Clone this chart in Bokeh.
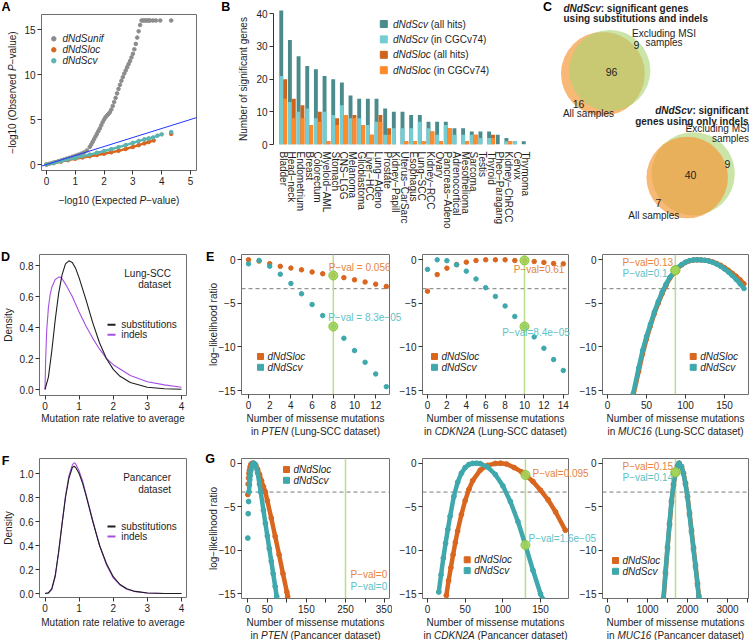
import math
from bokeh.plotting import figure
from bokeh.models import Range1d, FixedTicker, Label, Span, Slope
from bokeh.embed import file_html
from bokeh.resources import INLINE

# ============================ DATA ============================
# A: QQ plot, -log10 expected vs observed P
qq_unif_x = [0.00,0.10,0.20,0.30,0.40,0.50,0.60,0.70,0.80,0.90,1.00,1.10,1.20,1.30,1.40,1.50,
             1.55,1.60,1.65,1.70,1.75,1.80,1.85,1.90,1.95,2.00,2.05,2.10,2.15,2.20,2.25,2.30,2.35,2.40,
             2.45,2.50,2.55,2.60,2.65,2.70,2.75,2.80,2.85,2.90,2.95,3.00,3.05,3.10,3.15,3.20,3.25,3.30,
             3.35,3.40,3.45,3.50,3.55,3.60,3.70,3.80,3.95,4.33]
qq_unif_y = [0.00,0.08,0.17,0.26,0.35,0.45,0.55,0.65,0.75,0.86,0.97,1.08,1.20,1.33,1.55,1.95,
             2.20,2.50,2.80,3.10,3.40,3.70,4.00,4.35,4.70,5.00,5.25,5.45,5.60,5.80,6.10,6.50,6.95,7.40,
             7.90,8.40,8.85,9.30,9.70,10.10,10.45,10.80,11.15,11.50,11.90,12.30,12.80,13.40,14.10,14.80,15.50,16.00,
             16.00,16.00,16.00,16.00,16.00,16.00,16.00,16.00,16.00,16.00]
qq_cv_x = [0,0.25,0.5,0.75,1.0,1.25,1.5,1.75,2.0,2.25,2.5,2.75,3.0,3.2,3.4,3.55,3.7,3.85,4.0,4.33]
qq_cv_y = [0,0.18,0.36,0.55,0.73,0.92,1.1,1.3,1.5,1.7,1.92,2.15,2.4,2.6,2.8,2.9,3.0,3.2,3.35,3.6]
qq_loc_x = [0,0.25,0.5,0.75,1.0,1.25,1.5,1.75,2.0,2.25,2.5,2.75,3.0,3.2,3.4,3.55,3.72,4.33]
qq_loc_y = [0,0.16,0.32,0.48,0.64,0.78,0.92,1.06,1.2,1.36,1.52,1.72,1.95,2.15,2.35,2.5,2.67,3.4]
qq_xticks = [0, 1, 2, 3, 4, 5]
qq_yticks = [0, 5, 10, 15]

# B: number of significant genes per cancer type
cancer_types = ["Bladder", "Head\u2212neck", "Endometrium", "Breast", "Colorectum", "Myeloid\u2212AML",
                "Stomach", "CNS\u2212LGG", "Melanoma", "Glioblastoma", "Liver\u2212HCC", "Lung\u2212Adeno",
                "Prostate", "Kidney\u2212Papill", "Uterus\u2212CarSarc", "Esophagus", "Lung\u2212SCC",
                "Kidney\u2212RCC", "Ovary", "Pancreas\u2212Adeno", "Adrenocortical", "Mesothelioma",
                "Sarcoma", "Testis", "Thyroid", "Pheo\u2212Paragang", "Kidney\u2212ChRCC", "Cervix", "Thymoma"]
sig_cv_all  = [41,32,27,24,23,21,20,19,15,14,14,14,11,10,10,9,9,7,7,7,5,5,4,4,4,3,2,1,1]
sig_cv_cgc  = [21,13,10,11,8,10,9,12,8,8,6,7,3,5,5,5,7,5,3,6,3,3,3,2,2,0,1,1,0]
sig_loc_all = [20,14,12,6,10,1,8,9,9,6,3,9,5,0,1,1,1,4,1,5,0,1,3,0,3,0,1,0,0]
sig_loc_cgc = [14,8,8,6,7,1,6,9,8,6,3,7,3,0,1,1,1,4,1,5,0,1,3,0,2,0,1,0,0]
bar_yticks = [0, 10, 20, 30, 40]

# C: Venn counts  [all samples only, both, excluding MSI only]
venn_subs_indels = [16, 96, 9]
venn_indels_only = [7, 40, 9]

# D / F: density of mutation rate relative to average
dens_lscc_subs_x = [0,0.1,0.2,0.3,0.4,0.5,0.6,0.7,0.8,0.9,1.0,1.2,1.4,1.6,1.8,2.0,2.2,2.5,3.0,3.5,4.0]
dens_lscc_subs_y = [0,0.08,0.25,0.45,0.62,0.74,0.81,0.83,0.82,0.78,0.72,0.58,0.43,0.30,0.20,0.13,0.085,0.045,0.015,0.005,0.002]
dens_lscc_ind_x = [0,0.02,0.05,0.1,0.15,0.2,0.3,0.4,0.45,0.5,0.6,0.8,1.0,1.2,1.4,1.6,1.8,2.0,2.5,3.0,3.5,4.0]
dens_lscc_ind_y = [0,0.2,0.38,0.53,0.61,0.66,0.71,0.725,0.725,0.715,0.68,0.6,0.5,0.41,0.33,0.26,0.2,0.16,0.09,0.05,0.03,0.015]
dens_pan_x = [0,0.1,0.2,0.3,0.4,0.5,0.6,0.7,0.8,0.85,0.9,1.0,1.1,1.2,1.3,1.4,1.5,1.6,1.8,2.0,2.2,2.4,2.6,3.0,3.5,4.0]
dens_pan_subs_y = [0,0.005,0.04,0.15,0.35,0.58,0.8,0.96,1.05,1.06,1.05,1.0,0.92,0.82,0.71,0.6,0.5,0.4,0.25,0.14,0.075,0.04,0.02,0.004,0.0005,0.0]
dens_pan_ind_y  = [0,0.004,0.035,0.14,0.34,0.58,0.81,0.98,1.07,1.09,1.08,1.02,0.94,0.83,0.72,0.61,0.5,0.4,0.24,0.13,0.07,0.035,0.018,0.004,0.0005,0.0]
dens_xticks = [0, 1, 2, 3, 4]
dens_lscc_yticks = [0, 0.2, 0.4, 0.6, 0.8]
dens_pan_yticks = [0, 0.2, 0.4, 0.6, 0.8, 1.0]

# E: log-likelihood ratio profiles, Lung-SCC dataset
e_pten_x = list(range(14))
e_pten_loc = [0.0,-0.15,-0.45,-0.75,-0.95,-1.15,-1.4,-1.6,-1.8,-2.05,-2.3,-2.55,-2.8,-3.05]
e_pten_cv = [-0.46,-0.08,-0.73,-1.65,-2.72,-3.9,-5.13,-6.4,-7.66,-9.0,-10.42,-11.76,-13.1,-14.56]
e_cdkn2a_x = list(range(15))
e_cdkn2a_loc = [-3.6,-1.7,-0.96,-0.54,-0.27,-0.08,0.0,0.0,0.0,-0.08,-0.08,-0.2,-0.3,-0.42,-0.46]
e_cdkn2a_cv = [-1.1,0.0,-0.1,-0.57,-1.3,-2.2,-3.2,-4.2,-5.3,-6.5,-7.66,-8.85,-10.15,-11.45,-12.7]
e_muc16_x = [33,40,45,50,55,60,65,70,75,80,85,90,95,100,105,110,115,120,125,130,135,140,145,150,155,160,165,170,175]
e_muc16_cv = [-15.3,-12.4,-10.4,-8.8,-7.4,-6.0,-4.8,-3.7,-2.8,-2.0,-1.4,-0.9,-0.55,-0.27,-0.1,-0.02,0.0,-0.02,-0.06,-0.15,-0.3,-0.5,-0.75,-1.05,-1.4,-1.8,-2.25,-2.75,-3.3]
e_muc16_loc = [-15.6,-12.8,-10.8,-9.1,-7.6,-6.2,-5.0,-3.9,-2.95,-2.1,-1.5,-0.95,-0.6,-0.3,-0.12,-0.03,0.0,-0.01,-0.05,-0.12,-0.25,-0.42,-0.63,-0.9,-1.2,-1.55,-1.9,-2.3,-2.75]
e_observed = [8, 10, 87]
e_obs_loc = [-1.8, -0.08, -1.2]
e_obs_cv = [-7.66, -7.66, -1.2]
e_pval_loc = ["P\u2212val = 0.056", "P\u2212val=0.61", "P\u2212val=0.13"]
e_pval_cv = ["P\u2212val = 8.3e\u221205", "P\u2212val=8.4e\u221205", "P\u2212val=0.1"]

# G: log-likelihood ratio profiles, Pancancer dataset
g_pten_cv_x = [0,1,2,3,4,5,6,8,10,12,15,18,20,25,30,33,40,45,50,55,60,65,70,74]
g_pten_cv = [-8.6,-5.8,-4.4,-3.3,-2.5,-1.9,-1.45,-0.8,-0.35,-0.1,0.0,-0.1,-0.3,-1.1,-2.4,-3.3,-5.4,-6.9,-8.35,-9.8,-11.25,-12.7,-14.15,-15.3]
g_pten_loc_x = [0,1,2,3,4,6,8,10,13,16,20,25,30,35,40,45,50,60,70,80,90,100,102]
g_pten_loc = [-3.6,-2.4,-1.7,-1.2,-0.85,-0.4,-0.15,-0.05,0.0,-0.03,-0.2,-0.7,-1.3,-2.0,-2.7,-3.3,-4.3,-6.3,-8.4,-10.5,-12.7,-14.8,-15.3]
g_cdkn2a_cv_x = [15,18,21,24,27,30,35,40,45,50,55,60,65,70,80,90,100,110,120,130,140,150,153]
g_cdkn2a_cv = [-14.8,-12.8,-10.9,-9.2,-7.6,-6.1,-3.8,-2.2,-1.15,-0.5,-0.15,-0.02,0.0,-0.05,-0.45,-1.3,-2.6,-4.4,-6.7,-9.4,-12.3,-15.0,-15.6]
g_cdkn2a_loc_x = [25,28,31,34,37,40,45,50,55,60,70,80,90,97,105,115,125,130,140,150,160,170,183]
g_cdkn2a_loc = [-15.2,-13.5,-12.0,-10.5,-9.1,-7.8,-5.9,-4.3,-3.0,-2.0,-0.8,-0.25,-0.03,0.0,-0.1,-0.5,-1.0,-1.35,-2.1,-3.1,-4.2,-5.6,-7.7]
g_muc16_x = [1400,1450,1500,1550,1600,1650,1700,1750,1790,1850,1900,1950,2000,2050,2100,2150,2200,2250,2283]
g_muc16_cv = [-15.5,-12.5,-9.6,-6.9,-4.3,-2.4,-1.2,-0.3,0.0,-0.4,-1.2,-2.4,-3.9,-5.9,-7.9,-9.9,-11.9,-14.0,-15.4]
g_muc16_loc = [-15.7,-12.7,-9.8,-7.1,-4.5,-2.5,-1.25,-0.32,0.0,-0.38,-1.15,-2.3,-3.8,-5.7,-7.7,-9.7,-11.7,-13.8,-15.2]
g_observed = [250, 130, 1700]
g_obs_loc = [None, -1.35, -1.05]
g_obs_cv = [None, -9.4, -1.05]
g_pval_loc = ["P\u2212val=0", "P\u2212val=0.095", "P\u2212val=0.15"]
g_pval_cv = ["P\u2212val=0", "P\u2212val=1.6e\u221205", "P\u2212val=0.14"]

ll_threshold = -3.317
ll_yticks = [0, -5, -10, -15]
ll_ylabels = ["0", "\u22125", "\u221210", "\u221215"]
e_xticks = [[0,2,4,6,8,10,12], [0,2,4,6,8,10,12,14], [0,50,100,150]]
g_xticks = [[0,50,100,150,200,250,300,350], [0,50,100,150], [0,500,1000,1500,2000,2500,3000,3500]]
g_xlabels = [["0","50","","150","","250","","350"], ["0","50","100","150"],
             ["0","","1000","","2000","","3000",""]]
genes = ["PTEN", "CDKN2A", "MUC16"]

# ============================ STYLE ============================
FONT = "Liberation Sans"
INK = "#1e1e1e"
ORANGE = "#d9661f"
TEAL = "#3fa8ac"
TEAL_A = "#5ab4b0"
ORANGE_TXT = "#e5843e"
TEAL_TXT = "#5ec2c6"
GREEN_LINE = "#b8de8a"
GREEN_PT = "#a3d45a"
GRAY_PT = "#8c8c8c"
PURPLE = "#a64fe0"
DARK_TEAL = "#4b8b8c"
LIGHT_TEAL = "#74cdd3"
DARK_ORANGE = "#cc641e"
LIGHT_ORANGE = "#ff8a2a"

W_REG = {' ':278,'(':333,')':333,'-':333,'\u2212':584,'.':278,':':278,'=':584,
         'a':556,'b':556,'c':500,'d':556,'e':556,'f':278,'g':556,'h':556,'i':222,'j':222,'k':500,
         'l':222,'m':833,'n':556,'o':556,'p':556,'q':556,'r':333,'s':500,'t':278,'u':556,'v':500,
         'w':722,'x':500,'y':500,'z':500,'A':667,'B':667,'C':722,'D':722,'E':667,'F':611,'G':778,
         'H':722,'I':278,'J':500,'K':667,'L':556,'M':833,'N':722,'O':778,'P':667,'Q':778,'R':722,
         'S':667,'T':611,'U':722,'V':667,'W':944,'X':667,'Y':667,'Z':611}
W_BOLD = {' ':278,':':333,'a':556,'b':611,'c':556,'d':611,'e':556,'f':333,'g':611,'h':611,'i':278,
          'l':278,'n':611,'o':611,'r':389,'s':556,'t':333,'u':611,'v':556,'y':556,'N':722,'S':667,'C':722}


def tw(s, size, bold=False):
    tab = W_BOLD if bold else W_REG
    return sum(tab.get(ch, 556) for ch in s) * size / 1000.0


def lin(v0, p0, v1, p1):
    k = (v1 - v0) / (p1 - p0)
    return lambda px: v0 + (px - p0) * k


def place(model, X0, Y0):
    model.styles = {"position": "absolute", "left": f"{X0}px", "top": f"{Y0}px"}


# ---------- transparent overlay canvas (page pixels) holding all free text, on top ----------
ov = figure(width=750, height=640, x_range=Range1d(0, 750), y_range=Range1d(640, 0),
            x_axis_type=None, y_axis_type=None, output_backend="svg", toolbar_location=None,
            min_border_left=0, min_border_right=0, min_border_top=0, min_border_bottom=0)
ov.outline_line_color = None
ov.grid.visible = False
ov.background_fill_alpha = 0
ov.border_fill_alpha = 0
place(ov, 0, 0)


def txt(gx, gy, s, size=10, color=INK, style="normal", align="left", angle=0.0):
    ov.add_layout(Label(x=gx, y=gy, text=s, text_font=FONT,
                        text_font_size=f"{size}px", text_font_style=style, text_color=color,
                        text_align=align, text_baseline="middle", angle=angle))


def rich(parts, gx, gy, size=10, color=INK, align="center", vertical=False):
    widths = [tw(s, size, "bold" in st) for s, st in parts]
    total = sum(widths)
    cum = {"center": -total / 2, "right": -total, "left": 0}[align]
    for (s, st), w in zip(parts, widths):
        lead = len(s) - len(s.lstrip(" "))
        off = cum + tw(" " * lead, size, "bold" in st)
        t = s.strip(" ")
        if vertical:
            txt(gx, gy - off, t, size, color, st, "left", math.pi / 2)
        else:
            txt(gx + off, gy, t, size, color, st, "left")
        cum += w


def letter(gx, gy, s):
    txt(gx, gy, s, 12.5, "#000000", "bold", "center")


def make_panel(X0, Y0, W, H, box, xmap, ymap, outline=True):
    fl, ft, fr, fb = box
    fx = lin(*xmap)
    fy = lin(*ymap)
    p = figure(width=W, height=H,
               x_range=Range1d(fx(fl), fx(fr)), y_range=Range1d(fy(fb), fy(ft)),
               output_backend="svg", toolbar_location=None,
               min_border_left=fl - X0, min_border_right=X0 + W - fr,
               min_border_top=ft - Y0, min_border_bottom=Y0 + H - fb)
    p.grid.visible = False
    p.outline_line_color = "#6e6e6e" if outline else None
    p.outline_line_width = 1
    p.background_fill_alpha = 0
    p.border_fill_alpha = 0
    place(p, X0, Y0)
    return p


def style_axis(ax, ticks, labels):
    ax.ticker = FixedTicker(ticks=ticks)
    ax.major_label_overrides = {t: l for t, l in zip(ticks, labels)}
    ax.major_label_text_font = FONT
    ax.major_label_text_font_size = "10px"
    ax.major_label_text_color = INK
    ax.major_tick_out = 4
    ax.major_tick_in = 0
    ax.major_tick_line_color = "#333333"
    ax.minor_tick_line_color = None
    ax.axis_line_color = None
    ax.major_label_standoff = 2


roots = []

# ============================ A ============================
pA = make_panel(0, 0, 205, 240, (41, 14, 196, 170), (0, 46, 5, 190), (0, 164, 15, 29))
style_axis(pA.xaxis[0], qq_xticks, [str(t) for t in qq_xticks])
style_axis(pA.yaxis[0], qq_yticks, [str(t) for t in qq_yticks])
pA.scatter(qq_unif_x, qq_unif_y, size=3.6, color=GRAY_PT)
pA.line(qq_loc_x[:-1], qq_loc_y[:-1], color=ORANGE, line_width=2.4)
pA.scatter(qq_loc_x, qq_loc_y, size=3.6, color=ORANGE)
pA.line(qq_cv_x[:-1], qq_cv_y[:-1], color=TEAL_A, line_width=2.4)
pA.scatter(qq_cv_x, qq_cv_y, size=3.6, color=TEAL_A)
pA.add_layout(Slope(gradient=1, y_intercept=0, line_color="#2236ff", line_width=1))
for i, (lab, col) in enumerate([("dNdSunif", GRAY_PT), ("dNdSloc", ORANGE), ("dNdScv", TEAL_A)]):
    ov.scatter([53.3], [38.3 + 11 * i], size=4.5, color=col)
    txt(62, 38.3 + 11 * i, lab, 10, INK, "italic")
rich([("\u2212log10 (Expected ", "normal"), ("P", "italic"), ("\u2212value)", "normal")], 118.5, 200)
rich([("\u2212log10 (Observed ", "normal"), ("P", "italic"), ("\u2212value)", "normal")], 12, 92, vertical=True)
letter(5.5, 6.5, "A")
roots.append(pA)

# ============================ B ============================
pB = make_panel(205, 0, 340, 240, (273, 8, 540, 144), (0, 282.7, 1, 291.36), (0, 144, 40, 13.3), outline=False)
idx = list(range(len(cancer_types)))
style_axis(pB.xaxis[0], idx, cancer_types)
pB.xaxis[0].major_tick_line_color = None
pB.xaxis[0].major_label_orientation = "vertical"
pB.xaxis[0].major_label_standoff = 3
style_axis(pB.yaxis[0], bar_yticks, [str(t) for t in bar_yticks])
pB.yaxis[0].axis_line_color = "#333333"
pB.yaxis[0].bounds = (0, 40)
x_cv = [i - 0.225 for i in idx]
x_loc = [i + 0.225 for i in idx]
pB.vbar(x=x_cv, top=sig_cv_all, bottom=0, width=0.45, color=DARK_TEAL, line_color=None)
pB.vbar(x=x_cv, top=sig_cv_cgc, bottom=0, width=0.45, color=LIGHT_TEAL, line_color=None)
pB.vbar(x=x_loc, top=sig_loc_all, bottom=0, width=0.45, color=DARK_ORANGE, line_color=None)
pB.vbar(x=x_loc, top=sig_loc_cgc, bottom=0, width=0.45, color=LIGHT_ORANGE, line_color=None)
legB = [("dNdScv", " (all hits)", DARK_TEAL), ("dNdScv", " (in CGCv74)", LIGHT_TEAL),
        ("dNdSloc", " (all hits)", DARK_ORANGE), ("dNdSloc", " (in CGCv74)", LIGHT_ORANGE)]
for i, (a, b, col) in enumerate(legB):
    yy = 23.5 + 15.4 * i
    ov.scatter([383.3], [yy], marker="square", size=7, color=col)
    rich([(a, "italic"), (b, "normal")], 392.5, yy, 10, INK, "left")
rich([("Number of significant genes", "normal")], 243, 78.6, vertical=True)
letter(225.3, 6.5, "B")
roots.append(pB)

# ============================ C (drawn on the page canvas) ============================
ORANGE_V, GREEN_V = "#f59a3c", "#a8d46f"
k1 = 3.96
r_all1 = k1 * math.sqrt(venn_subs_indels[0] + venn_subs_indels[1])
r_ex1 = k1 * math.sqrt(venn_subs_indels[1] + venn_subs_indels[2])
ov.circle(x=[602.4], y=[73.3], radius=r_all1, fill_color=ORANGE_V, fill_alpha=0.7, line_color=None)
ov.circle(x=[609.3], y=[70.0], radius=r_ex1, fill_color=GREEN_V, fill_alpha=0.6, line_color=None)
k2 = 5.95
r_all2 = k2 * math.sqrt(venn_indels_only[0] + venn_indels_only[1])
r_ex2 = k2 * math.sqrt(venn_indels_only[1] + venn_indels_only[2])
ov.circle(x=[692.7], y=[173.3], radius=r_ex2, fill_color=GREEN_V, fill_alpha=0.6, line_color=None)
ov.circle(x=[686.7], y=[177.0], radius=r_all2, fill_color=ORANGE_V, fill_alpha=0.7, line_color=None)
rich([("dNdScv", "bold italic"), (": significant genes", "bold")], 563, 7.5, 10, INK, "left")
rich([("using substitutions and indels", "bold")], 563, 17.5, 10, INK, "left")
rich([("dNdScv", "bold italic"), (": significant", "bold")], 748, 110, 10, INK, "right")
rich([("genes using only indels", "bold")], 748, 120.7, 10, INK, "right")
txt(663.5, 33.3, "Excluding MSI", 10, INK, "normal", "center")
txt(663.5, 42.3, "samples", 10, INK, "normal", "center")
txt(636, 44.5, str(venn_subs_indels[2]), 10.5, INK, "normal", "center")
txt(611, 71.5, str(venn_subs_indels[1]), 10.5, INK, "normal", "center")
txt(578, 103, str(venn_subs_indels[0]), 10.5, INK, "normal", "center")
txt(588, 113.3, "All samples", 10, INK, "normal", "center")
txt(717, 128, "Excluding MSI", 10, INK, "normal", "center")
txt(730, 138, "samples", 10, INK, "normal", "center")
txt(727, 163.5, str(venn_indels_only[2]), 10.5, INK, "normal", "center")
txt(690, 174.5, str(venn_indels_only[1]), 10.5, INK, "normal", "center")
txt(658, 202, str(venn_indels_only[0]), 10.5, INK, "normal", "center")
txt(653.3, 215, "All samples", 10, INK, "normal", "center")
letter(547, 6.5, "C")


# ============================ D / F ============================
def density_panel(Y0, H, box, ymap, yticks, subs_x, subs_y, ind_x, ind_y, name, txt_y, leg_y, xl_y, let):
    p = make_panel(0, Y0, 205, H, box, (0, 44.5, 4, 181), ymap)
    style_axis(p.xaxis[0], dens_xticks, [str(t) for t in dens_xticks])
    style_axis(p.yaxis[0], yticks, ["%.1f" % t for t in yticks])
    p.line(ind_x, ind_y, color=PURPLE, line_width=1.1)
    p.line(subs_x, subs_y, color=INK, line_width=1.1)
    txt(170.5, txt_y, name, 10, INK, "normal", "right")
    txt(170.5, txt_y + 11.3, "dataset", 10, INK, "normal", "right")
    for i, (lab, col) in enumerate([("substitutions", INK), ("indels", PURPLE)]):
        yy = leg_y + 10 * i
        ov.line([107, 115], [yy, yy], color=col, line_width=2)
        txt(120.7, yy, lab, 10, INK)
    fl, ft, fr, fb = box
    txt((fl + fr) / 2, xl_y, "Mutation rate relative to average", 10, INK, "normal", "center")
    rich([("Density", "normal")], 8.3, (ft + fb) / 2, vertical=True)
    letter(5, ft + 2, let)
    return p


roots.append(density_panel(240, 204, (39, 254, 186, 395), (0, 389, 0.8, 265), dens_lscc_yticks,
                           dens_lscc_subs_x, dens_lscc_subs_y, dens_lscc_ind_x, dens_lscc_ind_y,
                           "Lung-SCC", 273, 324.3, 418, "D"))
roots.append(density_panel(444, 196, (39, 458, 186, 597), (0, 593, 1.0, 473), dens_pan_yticks,
                           dens_pan_x, dens_pan_subs_y, dens_pan_x, dens_pan_ind_y,
                           "Pancancer", 477.3, 526, 622, "F"))


# ============================ E / G ============================
def ll_panel(X0, Y0, W, H, box, xmap, ymap, xt, xl):
    p = make_panel(X0, Y0, W, H, box, xmap, ymap)
    style_axis(p.xaxis[0], xt, xl)
    style_axis(p.yaxis[0], ll_yticks, ll_ylabels)
    p.add_layout(Span(location=ll_threshold, dimension="width", line_color="#7a7a7a",
                      line_dash="4 3", line_width=1, level="underlay"))
    return p


def obs_line(p, xv):
    p.add_layout(Span(location=xv, dimension="height", line_color=GREEN_LINE, line_width=1.5, level="underlay"))


def legend_sq(gx, gy):
    for i, (lab, col) in enumerate([("dNdSloc", ORANGE), ("dNdScv", TEAL)]):
        yy = gy + 10.8 * i
        ov.scatter([gx], [yy], marker="square", size=6, color=col)
        txt(gx + 7, yy, lab, 10, INK, "italic")


def xlab(box, y1, gene, dataset):
    fl, ft, fr, fb = box
    cx = (fl + fr) / 2
    txt(cx, y1, "Number of missense mutations", 10, INK, "normal", "center")
    rich([("in ", "normal"), (gene, "italic"), (" (" + dataset + " dataset)", "normal")], cx, y1 + 13.3)


def green_pts(p, xv, ys):
    ys = [y for y in ys if y is not None]
    p.scatter([xv] * len(ys), ys, size=9, fill_color=GREEN_PT, line_color="#8cc640", fill_alpha=0.9)


E_Y = (0, 259.3, -15, 390)
G_Y = (0, 462.7, -15, 593.3)
cols = [(205, 187), (392, 180), (572, 178)]
e_xmaps = [(0, 248, 10, 354), (0, 427, 10, 524), (0, 607, 100, 685)]
g_xmaps = [(0, 247.3, 250, 345), (0, 427, 150, 540), (0, 607, 3000, 727)]
boxE = [(241, 254, 389, 394), (422, 254, 568, 394), (602, 254, 748, 394)]
boxG = [(241, 458, 389, 598), (422, 458, 568, 598), (602, 458, 748, 598)]

e_data = [(e_pten_x, e_pten_loc, e_pten_cv), (e_cdkn2a_x, e_cdkn2a_loc, e_cdkn2a_cv),
          (e_muc16_x, e_muc16_loc, e_muc16_cv)]
e_pval_pos = [((328.3, 266.7), (327.7, 317.3)), ((513.3, 269.3), (501.7, 332.3)), ((622, 262), (622, 273))]
e_leg_pos = [(260, 356), (434, 356), (692.7, 356)]
for j in range(3):
    X0, W = cols[j]
    p = ll_panel(X0, 240, W, 204, boxE[j], e_xmaps[j], E_Y, e_xticks[j], [str(t) for t in e_xticks[j]])
    obs_line(p, e_observed[j])
    xs, lo, cv = e_data[j]
    if j < 2:
        p.scatter(xs, lo, size=4.5, color=ORANGE)
        p.scatter(xs, cv, size=4.5, color=TEAL)
    else:
        p.line(xs, lo, color=ORANGE, line_width=4.5)
        p.scatter(xs, lo, size=4.5, color=ORANGE)
        p.line(xs, cv, color=TEAL, line_width=4.5)
        p.scatter(xs, cv, size=4.5, color=TEAL)
    green_pts(p, e_observed[j], [e_obs_loc[j], e_obs_cv[j]])
    (ox, oy), (tx, ty) = e_pval_pos[j]
    txt(ox, oy, e_pval_loc[j], 10, ORANGE_TXT)
    txt(tx, ty, e_pval_cv[j], 10, TEAL_TXT)
    legend_sq(*e_leg_pos[j])
    xlab(boxE[j], 418, genes[j], "Lung-SCC")
    if j == 0:
        rich([("log\u2212likelihood ratio", "normal")], 213, 324, vertical=True)
        letter(209.7, 256, "E")
    roots.append(p)

g_data = [((g_pten_loc_x, g_pten_loc), (g_pten_cv_x, g_pten_cv)),
          ((g_cdkn2a_loc_x, g_cdkn2a_loc), (g_cdkn2a_cv_x, g_cdkn2a_cv)),
          ((g_muc16_x, g_muc16_loc), (g_muc16_x, g_muc16_cv))]
g_line_start = [(3, 3), (0, 0), (0, 0)]
g_pval_pos = [((350, 574), (350, 586)), ((532, 473), (528, 538)), ((622, 466), (622, 477))]
g_leg_pos = [(286, 469), (466.7, 559.3), (615, 560)]
for j in range(3):
    X0, W = cols[j]
    p = ll_panel(X0, 444, W, 196, boxG[j], g_xmaps[j], G_Y, g_xticks[j], g_xlabels[j])
    obs_line(p, g_observed[j])
    (lx, ly), (cx_, cy_) = g_data[j]
    s_lo, s_cv = g_line_start[j]
    p.line(lx[s_lo:], ly[s_lo:], color=ORANGE, line_width=4.5)
    p.scatter(lx, ly, size=4.8, color=ORANGE)
    p.line(cx_[s_cv:], cy_[s_cv:], color=TEAL, line_width=4.5)
    p.scatter(cx_, cy_, size=4.8, color=TEAL)
    green_pts(p, g_observed[j], [g_obs_loc[j], g_obs_cv[j]])
    (ox, oy), (tx, ty) = g_pval_pos[j]
    txt(ox, oy, g_pval_loc[j], 10, ORANGE_TXT)
    txt(tx, ty, g_pval_cv[j], 10, TEAL_TXT)
    legend_sq(*g_leg_pos[j])
    xlab(boxG[j], 622, genes[j], "Pancancer")
    if j == 0:
        rich([("log\u2212likelihood ratio", "normal")], 213, 528, vertical=True)
        letter(209.5, 458, "G")
    roots.append(p)

roots.append(ov)
open("out.html", "w").write(file_html(roots, INLINE))
